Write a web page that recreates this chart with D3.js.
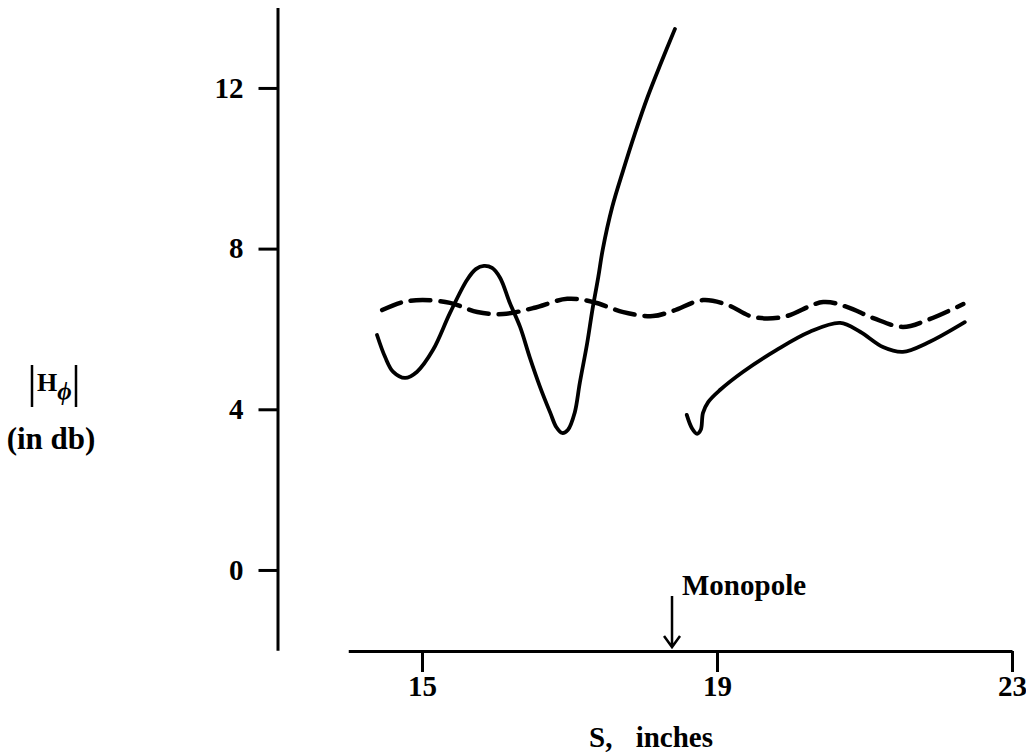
<!DOCTYPE html>
<html>
<head>
<meta charset="utf-8">
<script src="https://cdn.jsdelivr.net/npm/d3@7"></script>
<style>
  html, body { margin: 0; padding: 0; background: #fff; }
  svg text { font-family: "Liberation Serif", "DejaVu Serif", serif; font-weight: bold; fill: #000; }
</style>
</head>
<body>
<div id="chart"></div>
<script>
// S (inches) / |H| (db)
const solidLeftS = [14.39, 14.50, 14.61, 14.77, 14.93, 15.15, 15.38, 15.61, 15.73, 15.84, 15.95, 16.06, 16.19, 16.33, 16.46, 16.60, 16.74, 16.82, 16.90, 16.98, 17.07, 17.14, 17.24, 17.31, 17.39, 17.45, 17.58, 17.73, 17.89, 18.06, 18.24, 18.43];
const solidLeftH = [5.85, 5.30, 4.93, 4.78, 4.93, 5.48, 6.40, 7.22, 7.49, 7.57, 7.52, 7.27, 6.65, 6.05, 5.30, 4.56, 3.91, 3.56, 3.41, 3.49, 3.91, 4.66, 5.65, 6.47, 7.29, 7.97, 9.04, 9.96, 10.88, 11.78, 12.62, 13.47];

const solidRightS = [18.59, 18.66, 18.73, 18.78, 18.81, 18.88, 19.04, 19.35, 19.81, 20.26, 20.67, 20.94, 21.25, 21.52, 21.85, 22.36];
const solidRightH = [3.86, 3.53, 3.39, 3.49, 3.91, 4.18, 4.48, 4.93, 5.48, 5.93, 6.15, 5.93, 5.55, 5.43, 5.65, 6.17];

const dashedS = [14.46, 14.74, 15.01, 15.38, 15.75, 16.10, 16.51, 16.97, 17.32, 17.73, 18.13, 18.40, 18.81, 19.14, 19.49, 19.90, 20.44, 20.76, 21.12, 21.52, 21.85, 22.34];
const dashedH = [6.47, 6.67, 6.72, 6.65, 6.42, 6.37, 6.52, 6.75, 6.67, 6.42, 6.32, 6.45, 6.72, 6.60, 6.30, 6.30, 6.67, 6.55, 6.27, 6.05, 6.22, 6.62];

const xTicks = [15, 19, 23];
const yTicks = [0, 4, 8, 12];
const monopoleS = 18.39;

const width = 1026, height = 756;

const svg = d3.select("#chart")
  .append("svg")
  .attr("width", width)
  .attr("height", height);

const xScale = d3.scaleLinear()
  .domain([14, 23])
  .range([348.25, 1012]);

const yScale = d3.scaleLinear()
  .domain([-2, 14])
  .range([650.3, 7.6]);

// axes
const xAxis = d3.axisBottom(xScale)
  .tickValues(xTicks)
  .tickSize(21)
  .tickSizeOuter(0)
  .tickPadding(3);

const yAxis = d3.axisLeft(yScale)
  .tickValues(yTicks)
  .tickSize(19)
  .tickSizeOuter(0)
  .tickPadding(15);

const xAxisGroup = svg.append("g")
  .attr("transform", "translate(0,651)")
  .call(xAxis);

const yAxisGroup = svg.append("g")
  .attr("transform", "translate(277.5,0)")
  .call(yAxis);

[xAxisGroup, yAxisGroup].forEach(g => {
  g.selectAll("path.domain").attr("stroke", "#000").attr("stroke-width", 3);
  g.selectAll(".tick line").attr("stroke", "#000").attr("stroke-width", 3);
  g.selectAll(".tick text")
    .attr("font-family", "Liberation Serif, serif")
    .attr("font-weight", "bold")
    .attr("font-size", 29)
    .attr("fill", "#000");
});

// curves
const line = d3.line()
  .x(d => xScale(d[0]))
  .y(d => yScale(d[1]))
  .curve(d3.curveCatmullRom.alpha(0.5));

const series = [
  { pts: d3.zip(solidLeftS, solidLeftH), dash: null },
  { pts: d3.zip(solidRightS, solidRightH), dash: null },
  { pts: d3.zip(dashedS, dashedH), dash: "20,10" }
];

svg.selectAll(".curve")
  .data(series)
  .join("path")
  .attr("class", "curve")
  .attr("fill", "none")
  .attr("stroke", "#000")
  .attr("stroke-width", d => d.dash ? 4.5 : 3.8)
  .attr("stroke-linecap", "round")
  .attr("stroke-linejoin", "round")
  .attr("stroke-dasharray", d => d.dash)
  .attr("d", d => line(d.pts));

// monopole marker
const mx = xScale(monopoleS);
svg.append("path")
  .attr("fill", "none")
  .attr("stroke", "#000")
  .attr("stroke-width", 2.5)
  .attr("d", `M${mx},596 L${mx},647 M${mx - 8},636 L${mx},647 L${mx + 8},636`);

svg.append("text")
  .attr("x", mx + 10)
  .attr("y", 595)
  .attr("font-size", 29)
  .text("Monopole");

// axis titles
svg.append("text")
  .attr("x", 651)
  .attr("y", 747)
  .attr("text-anchor", "middle")
  .attr("font-size", 29)
  .attr("word-spacing", 16)
  .text("S, inches");

svg.append("path")
  .attr("fill", "none")
  .attr("stroke", "#000")
  .attr("stroke-width", 2.5)
  .attr("d", "M32,365 L32,407 M76,365 L76,407");

const hLabel = svg.append("text")
  .attr("x", 37)
  .attr("y", 391)
  .attr("font-size", 26);
hLabel.append("tspan").text("H");
hLabel.append("tspan")
  .attr("dy", 9)
  .attr("font-size", 25)
  .attr("font-style", "italic")
  .text("ϕ");

svg.append("text")
  .attr("x", 51)
  .attr("y", 449)
  .attr("text-anchor", "middle")
  .attr("font-size", 31)
  .text("(in db)");
</script>
</body>
</html>
